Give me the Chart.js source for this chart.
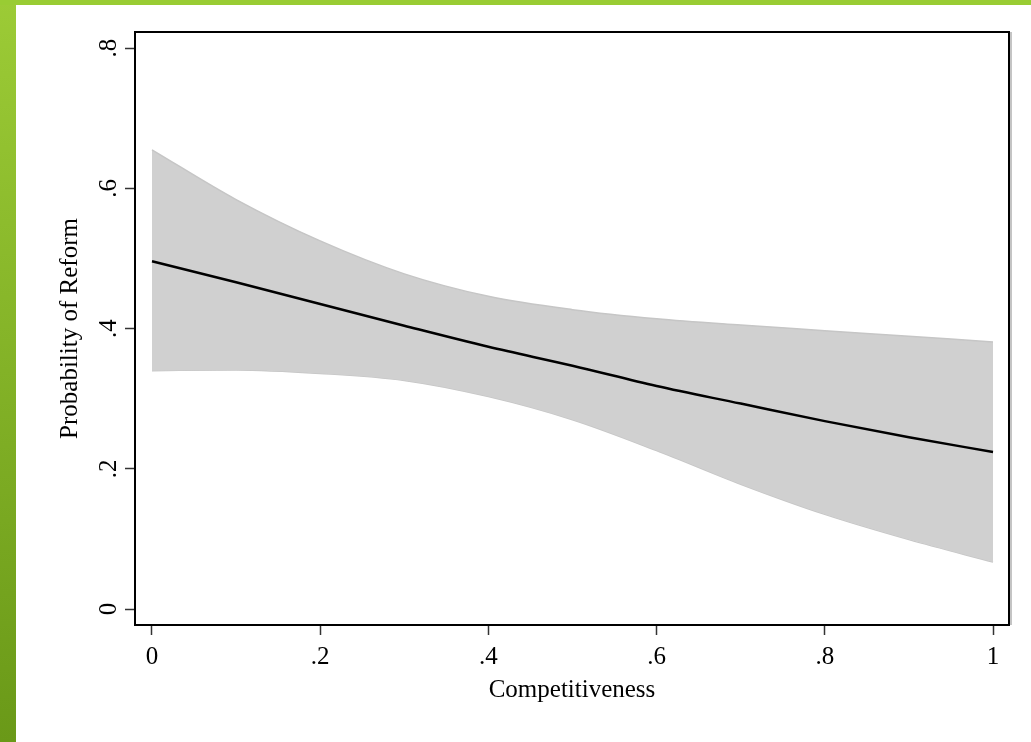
<!DOCTYPE html>
<html><head><meta charset="utf-8">
<script src="https://cdn.jsdelivr.net/npm/chart.js@4"></script>
<style>
html,body{margin:0;padding:0;background:#fff;}
#wrap{position:relative;width:1031px;height:742px;overflow:hidden;background:#fff}
#left{position:absolute;left:0;top:0;width:16px;height:742px;background:linear-gradient(#9ccb36,#6a9918);}
#top{position:absolute;left:0;top:0;width:1031px;height:5px;background:#99cc33;}
canvas{position:absolute;left:0;top:0}
</style></head><body>
<div id="wrap"><canvas id="c" width="1031" height="742"></canvas><div id="left"></div><div id="top"></div></div>
<script>
// ---- data ----
const xValues = [0, 0.1, 0.2, 0.3, 0.4, 0.5, 0.6, 0.7, 0.8, 0.9, 1];
const fitted  = [0.496, 0.466, 0.435, 0.404, 0.374, 0.347, 0.318, 0.293, 0.268, 0.245, 0.224];
const upperCI = [0.655, 0.584, 0.525, 0.478, 0.446, 0.427, 0.414, 0.405, 0.397, 0.389, 0.381];
const lowerCI = [0.340, 0.341, 0.336, 0.326, 0.303, 0.270, 0.226, 0.178, 0.135, 0.099, 0.067];
const xTicks = [0, 0.2, 0.4, 0.6, 0.8, 1];
const xTickLabels = ['0', '.2', '.4', '.6', '.8', '1'];
const yTicks = [0, 0.2, 0.4, 0.6, 0.8];
const yTickLabels = ['0', '.2', '.4', '.6', '.8'];
const xTitle = 'Competitiveness';
const yTitle = 'Probability of Reform';

const FONT = {family: '"Liberation Serif", "Times New Roman", serif', size: 25};
const pts = arr => xValues.map((x, i) => ({x: x, y: arr[i]}));

const yLabelPlugin = {
  id: 'yLabels',
  afterDraw(chart) {
    const s = chart.scales.y, ctx = chart.ctx;
    ctx.save();
    ctx.font = FONT.size + 'px ' + FONT.family;
    ctx.fillStyle = '#000';
    ctx.textAlign = 'center';
    ctx.textBaseline = 'alphabetic';
    s.ticks.forEach(t => {
      const i = yTicks.indexOf(t.value);
      if (i < 0) return;
      const y = s.getPixelForValue(t.value);
      ctx.save();
      ctx.translate(s.right - 19, y);
      ctx.rotate(-Math.PI / 2);
      ctx.fillText(yTickLabels[i], 0, 0);
      ctx.restore();
    });
    ctx.restore();
  }
};
const framePlugin = {
  id: 'frame',
  afterDraw(chart) {
    const a = chart.chartArea, ctx = chart.ctx;
    ctx.save();
    ctx.strokeStyle = '#b0b0b0';
    ctx.lineWidth = 1.5;
    ctx.beginPath();
    ctx.moveTo(a.right + 2, a.top);
    ctx.lineTo(a.right + 2, a.bottom);
    ctx.stroke();
    ctx.strokeStyle = '#000';
    ctx.lineWidth = 2;
    ctx.beginPath();
    ctx.moveTo(a.left, a.top);
    ctx.lineTo(a.right, a.top);
    ctx.lineTo(a.right, a.bottom);
    ctx.stroke();
    ctx.restore();
  }
};

new Chart(document.getElementById('c'), {
  type: 'line',
  data: {
    datasets: [
      {data: pts(upperCI), borderColor: '#c6c6c6', borderWidth: 1.5, backgroundColor: '#d0d0d0',
       fill: '+1', pointRadius: 0, cubicInterpolationMode: 'monotone', order: 1},
      {data: pts(lowerCI), borderColor: '#c6c6c6', borderWidth: 1.5, backgroundColor: '#d0d0d0',
       fill: false, pointRadius: 0, cubicInterpolationMode: 'monotone', order: 2},
      {data: pts(fitted), borderColor: '#000', borderWidth: 2.5, fill: false,
       pointRadius: 0, cubicInterpolationMode: 'monotone', order: 0}
    ]
  },
  options: {
    responsive: false,
    animation: false,
    devicePixelRatio: 1,
    layout: {padding: {top: 32, right: 22, left: 0, bottom: 0}},
    plugins: {legend: {display: false}, tooltip: {enabled: false}},
    scales: {
      x: {
        type: 'linear', min: -0.0202, max: 1.019,
        afterBuildTicks: s => { s.ticks = xTicks.map(v => ({value: v})); },
        afterFit: s => { s.height = 117; },
        ticks: {
          font: FONT, color: '#000', padding: 7, maxRotation: 0, autoSkip: false,
          callback: v => { const i = xTicks.indexOf(v); return i >= 0 ? xTickLabels[i] : ''; }
        },
        grid: {drawOnChartArea: false, drawTicks: true, tickLength: 10, tickColor: '#333', tickWidth: 1.5},
        border: {display: true, color: '#000', width: 2},
        title: {display: true, text: xTitle, font: FONT, color: '#000', padding: {top: 0, bottom: 37}}
      },
      y: {
        type: 'linear', min: -0.0228, max: 0.823,
        afterBuildTicks: s => { s.ticks = yTicks.map(v => ({value: v})); },
        afterFit: s => { s.width = 135; },
        ticks: {display: false},
        grid: {drawOnChartArea: false, drawTicks: true, tickLength: 10, tickColor: '#333', tickWidth: 1.5},
        border: {display: true, color: '#000', width: 2},
        title: {display: true, text: yTitle, font: FONT, color: '#000', padding: {top: 55, bottom: 0}}
      }
    }
  },
  plugins: [yLabelPlugin, framePlugin]
});
</script>
</body></html>
